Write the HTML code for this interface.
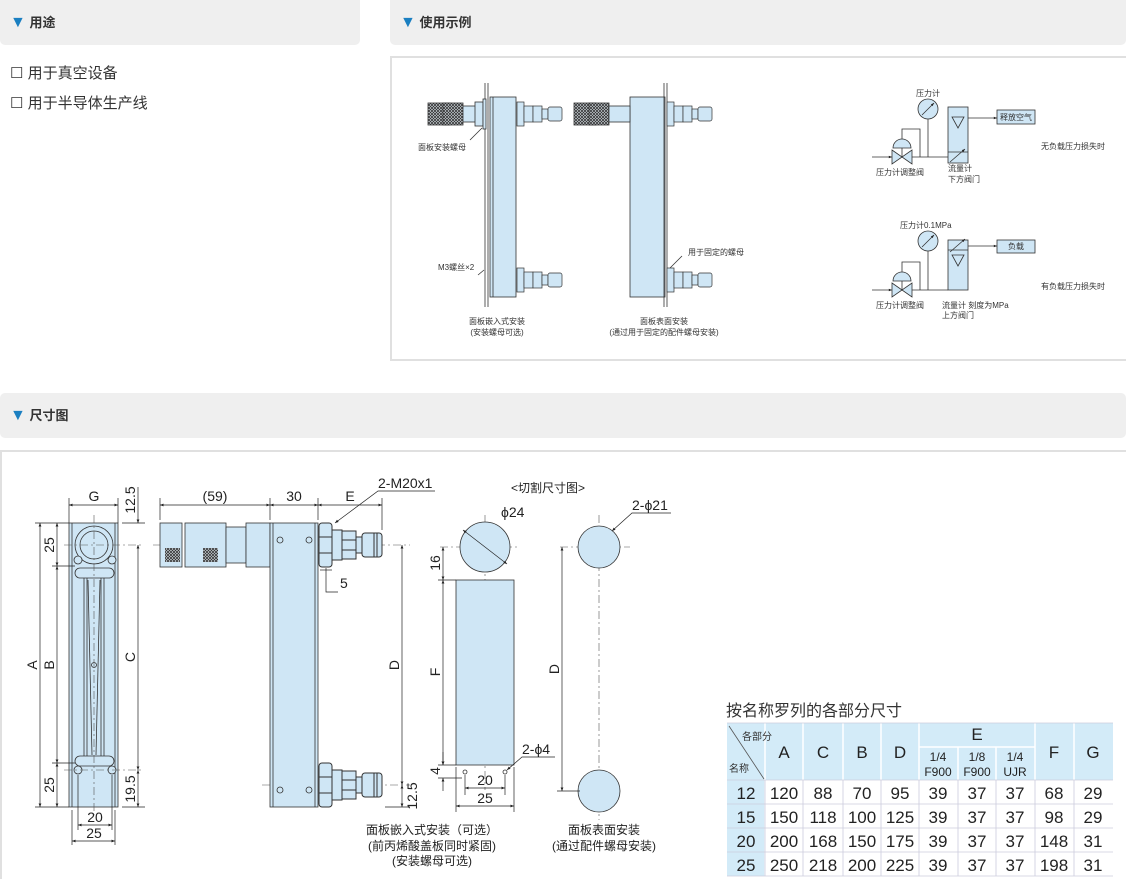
<!DOCTYPE html>
<html><head><meta charset="utf-8"><style>
body{margin:0;width:1126px;height:879px;overflow:hidden;background:#fff;font-family:"Liberation Sans","Noto Sans CJK SC",sans-serif;}
svg{position:absolute;left:0;top:0}
</style></head><body>
<svg width="1126" height="879" viewBox="0 0 1126 879" font-family="Liberation Sans, Noto Sans CJK SC, sans-serif">
<defs>
<pattern id="kn" width="3" height="3" patternUnits="userSpaceOnUse"><rect width="3" height="3" fill="#dfe8ee"/><path d="M0 0L3 3M3 0L0 3" stroke="#333" stroke-width="0.8"/></pattern>
<marker id="ar" viewBox="0 0 10 10" refX="10" refY="5" markerWidth="7" markerHeight="5" orient="auto-start-reverse"><path d="M0 1L10 5L0 9z" fill="#222"/></marker>
<marker id="as" viewBox="0 0 10 10" refX="10" refY="5" markerWidth="5" markerHeight="4" orient="auto-start-reverse"><path d="M0 1L10 5L0 9z" fill="#222"/></marker>
<g id="fit">
<rect x="0" y="-22" width="13" height="44" rx="3" fill="#cfe6f5" stroke="#333"/>
<line x1="0" y1="-8" x2="13" y2="-8" stroke="#333"/><line x1="0" y1="8" x2="13" y2="8" stroke="#333"/>
<rect x="13" y="-15" width="10" height="30" fill="#cfe6f5" stroke="#333"/>
<rect x="23" y="-14" width="14" height="28" fill="#cfe6f5" stroke="#333"/>
<line x1="23" y1="-5" x2="37" y2="-5" stroke="#333"/><line x1="23" y1="5" x2="37" y2="5" stroke="#333"/>
<rect x="37" y="-8" width="6" height="16" fill="#cfe6f5" stroke="#333"/>
<rect x="43" y="-12" width="20" height="24" rx="3" fill="#cfe6f5" stroke="#333"/>
<line x1="55" y1="-12" x2="55" y2="12" stroke="#333"/><line x1="58" y1="-12" x2="58" y2="12" stroke="#333"/>
</g>
<g id="sf">
<rect x="0" y="-12" width="7" height="24" fill="#cfe6f5" stroke="#333" stroke-width="0.7"/>
<rect x="7" y="-8" width="9" height="16" fill="#cfe6f5" stroke="#333" stroke-width="0.7"/>
<rect x="16" y="-8" width="9" height="16" fill="#cfe6f5" stroke="#333" stroke-width="0.7"/>
<rect x="25" y="-5" width="6" height="10" fill="#cfe6f5" stroke="#333" stroke-width="0.7"/>
<rect x="31" y="-7" width="14" height="14" rx="2" fill="#cfe6f5" stroke="#333" stroke-width="0.7"/>
</g>
</defs>

<rect x="0" y="-6" width="360" height="51" rx="5" fill="#efefef"/>
<rect x="390" y="-6" width="736" height="51" rx="5" fill="#efefef"/>
<rect x="0" y="393" width="1126" height="45" rx="5" fill="#efefef"/>
<g font-size="13" font-weight="bold" fill="#333">
<text x="10" y="27"><tspan fill="#1a7fc1" font-size="16">▼</tspan> 用途</text>
<text x="400" y="27"><tspan fill="#1a7fc1" font-size="16">▼</tspan> 使用示例</text>
<text x="10" y="420"><tspan fill="#1a7fc1" font-size="16">▼</tspan> 尺寸图</text>
</g>
<g font-size="15" fill="#333">
<text x="10" y="78">☐ 用于真空设备</text>
<text x="10" y="108">☐ 用于半导体生产线</text>
</g>

<rect x="391" y="57" width="740" height="303" fill="none" stroke="#e0e0e0" stroke-width="2"/>
<g stroke="#333" stroke-width="0.8">
<line x1="485" y1="83" x2="485" y2="307"/><line x1="488" y1="83" x2="488" y2="307"/>
<rect x="490" y="97" width="26" height="200" fill="#cfe6f5"/>
<line x1="493" y1="97" x2="493" y2="297"/>
<rect x="428" y="103" width="22" height="22" fill="url(#kn)"/>
<rect x="443" y="103" width="20" height="22" fill="url(#kn)"/>
<rect x="463" y="106" width="15" height="16" fill="#cfe6f5"/>
<rect x="475" y="102" width="8" height="24" fill="#cfe6f5"/>
<rect x="483" y="99" width="3" height="30" fill="#cfe6f5"/>
<line x1="470" y1="140" x2="482" y2="128"/>
<line x1="478" y1="275" x2="484" y2="270"/>
</g>
<use href="#sf" x="517" y="114"/>
<use href="#sf" x="517" y="280"/>
<g stroke="#333" stroke-width="0.8">
<rect x="630" y="97" width="35" height="200" fill="#cfe6f5"/>
<line x1="664" y1="83" x2="664" y2="307"/><line x1="667" y1="83" x2="667" y2="307"/>
<rect x="574" y="103" width="22" height="22" fill="url(#kn)"/>
<rect x="589" y="103" width="20" height="22" fill="url(#kn)"/>
<rect x="609" y="106" width="21" height="16" fill="#cfe6f5"/>
<line x1="670" y1="268" x2="682" y2="256"/>
</g>
<use href="#sf" x="667" y="114"/>
<use href="#sf" x="667" y="280"/>
<g font-size="8" fill="#333">
<text x="418" y="150">面板安装螺母</text>
<text x="438" y="270">M3螺丝×2</text>
<text x="688" y="255">用于固定的螺母</text>
<text x="497" y="324" text-anchor="middle">面板嵌入式安装</text>
<text x="497" y="335" text-anchor="middle">(安装螺母可选)</text>
<text x="664" y="324" text-anchor="middle">面板表面安装</text>
<text x="664" y="335" text-anchor="middle">(通过用于固定的配件螺母安装)</text>
</g>
<g stroke="#333" stroke-width="0.8" fill="#cfe6f5">
<line x1="872" y1="157" x2="892" y2="157" marker-end="url(#as)"/>
<line x1="912" y1="157" x2="948" y2="157"/>
<path d="M892 150L912 164L912 150L892 164z"/>
<path d="M893 148A9 9 0 0 1 911 148z"/>
<line x1="902" y1="148" x2="902" y2="157"/>
<polyline points="902,139 902,129 920,129 920,157" fill="none"/>
<line x1="928" y1="119" x2="928" y2="157"/>
<circle cx="928" cy="109" r="10" fill="#cfe6f5"/>
<line x1="922" y1="115" x2="934" y2="103" marker-end="url(#as)"/>
<rect x="948" y="107" width="20" height="56"/>
<path d="M952 117L964 117L958 128z" />
<line x1="948" y1="152" x2="968" y2="152"/>
<line x1="950" y1="162" x2="965" y2="149" marker-end="url(#as)"/>
<line x1="968" y1="118" x2="997" y2="118" marker-end="url(#as)"/>
<rect x="997" y="110" width="38" height="14"/>
<line x1="872" y1="290" x2="892" y2="290" marker-end="url(#as)"/>
<line x1="912" y1="290" x2="948" y2="290"/>
<path d="M892 283L912 297L912 283L892 297z"/>
<path d="M893 281A9 9 0 0 1 911 281z"/>
<line x1="902" y1="281" x2="902" y2="290"/>
<polyline points="902,272 902,262 920,262 920,290" fill="none"/>
<line x1="928" y1="251" x2="928" y2="290"/>
<circle cx="928" cy="241" r="10" fill="#cfe6f5"/>
<line x1="922" y1="247" x2="934" y2="235" marker-end="url(#as)"/>
<rect x="948" y="240" width="20" height="50"/>
<line x1="948" y1="250" x2="968" y2="250"/>
<path d="M952 255L964 255L958 266z"/>
<line x1="950" y1="252" x2="965" y2="239" marker-end="url(#as)"/>
<line x1="968" y1="246" x2="997" y2="246" marker-end="url(#as)"/>
<rect x="997" y="240" width="38" height="13"/>
</g>
<g font-size="8" fill="#333">
<text x="928" y="96" text-anchor="middle">压力计</text>
<text x="1016" y="120" text-anchor="middle">释放空气</text>
<text x="900" y="175" text-anchor="middle">压力计调整阀</text>
<text x="948" y="171">流量计</text>
<text x="948" y="182">下方阀门</text>
<text x="1041" y="149">无负载压力损失时</text>
<text x="900" y="228">压力计0.1MPa</text>
<text x="1016" y="249" text-anchor="middle">负载</text>
<text x="900" y="308" text-anchor="middle">压力计调整阀</text>
<text x="942" y="308">流量计 刻度为MPa</text>
<text x="942" y="318">上方阀门</text>
<text x="1041" y="289">有负载压力损失时</text>
</g>

<path d="M1 879L1 451L1126 451" fill="none" stroke="#e0e0e0" stroke-width="2"/>

<g stroke="#333" stroke-width="0.8">
<rect x="69" y="523" width="49" height="284" fill="#cfe6f5"/>
<line x1="72" y1="523" x2="72" y2="807"/><line x1="115" y1="523" x2="115" y2="807"/>
<circle cx="94" cy="545" r="19" fill="#cfe6f5"/><circle cx="94" cy="545" r="14" fill="#cfe6f5"/>
<rect x="75" y="568" width="39" height="10" rx="5" fill="#cfe6f5"/>
<rect x="75" y="756" width="39" height="10" rx="5" fill="#cfe6f5"/>
<line x1="84" y1="578" x2="84" y2="756"/><line x1="87" y1="578" x2="87" y2="756"/>
<line x1="101" y1="578" x2="101" y2="756"/><line x1="104" y1="578" x2="104" y2="756"/>
<line x1="88" y1="580" x2="92" y2="755"/><line x1="100" y1="580" x2="96" y2="755"/>
<circle cx="94" cy="665" r="2.5" fill="none"/>
<circle cx="78" cy="560" r="4" fill="#cfe6f5"/><circle cx="112" cy="560" r="4" fill="#cfe6f5"/>
<circle cx="78" cy="770" r="4" fill="#cfe6f5"/><circle cx="112" cy="770" r="4" fill="#cfe6f5"/>
</g>
<g stroke="#555" stroke-width="0.6" stroke-dasharray="8 3 2 3" fill="none">
<line x1="94" y1="515" x2="94" y2="815"/>
<line x1="64" y1="545" x2="142" y2="545"/>
<line x1="64" y1="770" x2="142" y2="770"/>
<line x1="153" y1="545" x2="410" y2="545"/>
<line x1="262" y1="785" x2="410" y2="785"/>
<line x1="440" y1="547" x2="520" y2="547"/>
<line x1="485" y1="515" x2="485" y2="790"/>
<line x1="560" y1="547" x2="630" y2="547"/>
<line x1="599" y1="515" x2="599" y2="820"/>
</g>
<g stroke="#333" stroke-width="0.8">
<rect x="160" y="523" width="22" height="44" fill="#cfe6f5"/>
<rect x="185" y="523" width="41" height="44" fill="#cfe6f5"/>
<rect x="226" y="527" width="20" height="36" fill="#cfe6f5"/>
<rect x="246" y="523" width="24" height="44" fill="#cfe6f5"/>
<rect x="165" y="548" width="15" height="14" fill="url(#kn)" stroke="none"/>
<rect x="203" y="548" width="15" height="14" fill="url(#kn)" stroke="none"/>
<rect x="270" y="523" width="48" height="284" fill="#cfe6f5"/>
<line x1="273" y1="523" x2="273" y2="807"/><line x1="315" y1="523" x2="315" y2="807"/>
<circle cx="280" cy="540" r="3" fill="none"/><circle cx="309" cy="540" r="3" fill="none"/>
<circle cx="280" cy="790" r="3" fill="none"/><circle cx="309" cy="790" r="3" fill="none"/>
</g>
<use href="#fit" x="319" y="545"/>
<use href="#fit" x="319" y="785"/>
<g stroke="#333" stroke-width="0.8" fill="#cfe6f5">
<circle cx="485" cy="547" r="25"/>
<rect x="456" y="580" width="58" height="185"/>
<circle cx="465" cy="772" r="2" fill="none"/><circle cx="505" cy="772" r="2" fill="none"/>
<circle cx="599" cy="547" r="21"/>
<circle cx="599" cy="791" r="21"/>
</g>
<g stroke="#222" stroke-width="0.7" fill="none">
<line x1="69" y1="498" x2="69" y2="523"/><line x1="118" y1="498" x2="118" y2="523"/>
<line x1="35" y1="523" x2="69" y2="523"/><line x1="35" y1="807" x2="69" y2="807"/>
<line x1="52" y1="566" x2="75" y2="566"/><line x1="52" y1="763" x2="75" y2="763"/>
<line x1="122" y1="523" x2="145" y2="523"/><line x1="122" y1="807" x2="145" y2="807"/>
<line x1="72" y1="810" x2="72" y2="845"/><line x1="115" y1="810" x2="115" y2="845"/>
<line x1="78" y1="775" x2="78" y2="830"/><line x1="112" y1="775" x2="112" y2="830"/>
<line x1="160" y1="498" x2="160" y2="520"/><line x1="270" y1="498" x2="270" y2="520"/>
<line x1="318" y1="498" x2="318" y2="520"/><line x1="382" y1="498" x2="382" y2="530"/>
<line x1="385" y1="807" x2="410" y2="807"/>
<line x1="69" y1="505" x2="118" y2="505" marker-start="url(#ar)" marker-end="url(#ar)"/>
<line x1="40" y1="523" x2="40" y2="807" marker-start="url(#ar)" marker-end="url(#ar)"/>
<line x1="57" y1="523" x2="57" y2="566" marker-start="url(#ar)" marker-end="url(#ar)"/>
<line x1="57" y1="566" x2="57" y2="763" marker-start="url(#ar)" marker-end="url(#ar)"/>
<line x1="57" y1="763" x2="57" y2="807" marker-start="url(#ar)" marker-end="url(#ar)"/>
<line x1="138" y1="487" x2="138" y2="523" marker-end="url(#ar)"/>
<line x1="138" y1="545" x2="138" y2="770" marker-start="url(#ar)" marker-end="url(#ar)"/>
<line x1="138" y1="770" x2="138" y2="807" marker-start="url(#ar)" marker-end="url(#ar)"/>
<line x1="78" y1="825" x2="112" y2="825" marker-start="url(#ar)" marker-end="url(#ar)"/>
<line x1="72" y1="841" x2="115" y2="841" marker-start="url(#ar)" marker-end="url(#ar)"/>
<line x1="160" y1="505" x2="270" y2="505" marker-start="url(#ar)" marker-end="url(#ar)"/>
<line x1="270" y1="505" x2="318" y2="505" marker-start="url(#ar)" marker-end="url(#ar)"/>
<line x1="318" y1="505" x2="382" y2="505" marker-start="url(#ar)" marker-end="url(#ar)"/>
<polyline points="435,491 378,491 335,523" marker-end="url(#ar)"/>
<polyline points="326,568 326,592 338,592"/>
<line x1="320" y1="570" x2="332" y2="570"/>
<line x1="402" y1="545" x2="402" y2="785" marker-start="url(#ar)" marker-end="url(#ar)"/>
<line x1="402" y1="785" x2="402" y2="807" marker-start="url(#ar)" marker-end="url(#ar)"/>
<line x1="438" y1="580" x2="456" y2="580"/><line x1="438" y1="765" x2="456" y2="765"/><line x1="438" y1="778" x2="462" y2="778"/>
<line x1="443" y1="547" x2="443" y2="580" marker-start="url(#ar)" marker-end="url(#ar)"/>
<line x1="443" y1="580" x2="443" y2="765" marker-start="url(#ar)" marker-end="url(#ar)"/>
<line x1="443" y1="752" x2="443" y2="765" marker-end="url(#ar)"/>
<line x1="443" y1="791" x2="443" y2="778" marker-end="url(#ar)"/>
<line x1="463" y1="530" x2="507" y2="564" marker-start="url(#ar)" marker-end="url(#ar)"/>
<line x1="456" y1="767" x2="456" y2="812"/><line x1="514" y1="767" x2="514" y2="812"/>
<line x1="465" y1="775" x2="465" y2="795"/><line x1="505" y1="775" x2="505" y2="795"/>
<line x1="465" y1="788" x2="505" y2="788" marker-start="url(#ar)" marker-end="url(#ar)"/>
<line x1="456" y1="806" x2="514" y2="806" marker-start="url(#ar)" marker-end="url(#ar)"/>
<polyline points="555,757 522,757 507,770" marker-end="url(#ar)"/>
<polyline points="671,513 632,513 612,531" marker-end="url(#ar)"/>
<line x1="557" y1="791" x2="580" y2="791"/>
<line x1="562" y1="547" x2="562" y2="791" marker-start="url(#ar)" marker-end="url(#ar)"/>
</g>
<g font-size="14" fill="#222">
<text x="94" y="501" text-anchor="middle">G</text>
<text transform="translate(37 665) rotate(-90)" text-anchor="middle">A</text>
<text transform="translate(54 665) rotate(-90)" text-anchor="middle">B</text>
<text transform="translate(54 545) rotate(-90)" text-anchor="middle">25</text>
<text transform="translate(54 785) rotate(-90)" text-anchor="middle">25</text>
<text transform="translate(135 657) rotate(-90)" text-anchor="middle">C</text>
<text transform="translate(135 500) rotate(-90)" text-anchor="middle">12.5</text>
<text transform="translate(135 789) rotate(-90)" text-anchor="middle">19.5</text>
<text x="95" y="822" text-anchor="middle">20</text>
<text x="94" y="838" text-anchor="middle">25</text>
<text x="215" y="501" text-anchor="middle">(59)</text>
<text x="294" y="501" text-anchor="middle">30</text>
<text x="350" y="501" text-anchor="middle">E</text>
<text x="378" y="488">2-M20x1</text>
<text x="340" y="588">5</text>
<text transform="translate(399 665) rotate(-90)" text-anchor="middle">D</text>
<text transform="translate(417 796) rotate(-90)" text-anchor="middle">12.5</text>
<text transform="translate(440 563) rotate(-90)" text-anchor="middle">16</text>
<text transform="translate(440 672) rotate(-90)" text-anchor="middle">F</text>
<text transform="translate(440 771) rotate(-90)" text-anchor="middle">4</text>
<text x="501" y="517">ϕ24</text>
<text x="485" y="785" text-anchor="middle">20</text>
<text x="485" y="803" text-anchor="middle">25</text>
<text x="522" y="754">2-ϕ4</text>
<text transform="translate(559 669) rotate(-90)" text-anchor="middle">D</text>
<text x="632" y="510">2-ϕ21</text>
</g>
<g font-size="12" fill="#222">
<text x="548" y="492" text-anchor="middle">&lt;切割尺寸图&gt;</text>
<text x="432" y="834" text-anchor="middle">面板嵌入式安装（可选）</text>
<text x="432" y="850" text-anchor="middle">(前丙烯酸盖板同时紧固)</text>
<text x="432" y="865" text-anchor="middle">(安装螺母可选)</text>
<text x="604" y="834" text-anchor="middle">面板表面安装</text>
<text x="604" y="850" text-anchor="middle">(通过配件螺母安装)</text>
</g>

<text x="726" y="716" font-size="16" fill="#333">按名称罗列的各部分尺寸</text>
<g>
<rect x="727" y="723" width="386" height="57" fill="#d3ebf8"/>
<rect x="727" y="780" width="38" height="96" fill="#d3ebf8"/>
<g stroke="#fff" stroke-width="1.5">
<line x1="765" y1="723" x2="765" y2="876"/><line x1="803" y1="723" x2="803" y2="876"/>
<line x1="843" y1="723" x2="843" y2="876"/><line x1="881" y1="723" x2="881" y2="876"/>
<line x1="919" y1="723" x2="919" y2="876"/><line x1="958" y1="747" x2="958" y2="876"/>
<line x1="996" y1="747" x2="996" y2="876"/><line x1="1035" y1="723" x2="1035" y2="876"/>
<line x1="1074" y1="723" x2="1074" y2="876"/>
<line x1="919" y1="747" x2="1035" y2="747"/>
</g>
<g stroke="#ccd" stroke-width="0.8">
<line x1="727" y1="723" x2="1113" y2="723"/>
<line x1="727" y1="780" x2="1113" y2="780"/>
<line x1="727" y1="804" x2="1113" y2="804"/>
<line x1="727" y1="828" x2="1113" y2="828"/>
<line x1="727" y1="852" x2="1113" y2="852"/>
<line x1="727" y1="876" x2="1113" y2="876"/>
<line x1="765" y1="780" x2="765" y2="876"/>
<line x1="803" y1="780" x2="803" y2="876"/><line x1="843" y1="780" x2="843" y2="876"/>
<line x1="881" y1="780" x2="881" y2="876"/><line x1="919" y1="780" x2="919" y2="876"/>
<line x1="958" y1="780" x2="958" y2="876"/><line x1="996" y1="780" x2="996" y2="876"/>
<line x1="1035" y1="780" x2="1035" y2="876"/><line x1="1074" y1="780" x2="1074" y2="876"/>
<line x1="729" y1="726" x2="764" y2="779" stroke="#555"/>
</g>
<g font-size="10" fill="#333"><text x="742" y="740">各部分</text><text x="729" y="772">名称</text></g>
<g font-size="17" fill="#222" text-anchor="middle">
<text x="784" y="758">A</text><text x="823" y="758">C</text><text x="862" y="758">B</text><text x="900" y="758">D</text>
<text x="977" y="740">E</text><text x="1054" y="758">F</text><text x="1093" y="758">G</text>
</g>
<g font-size="12" fill="#222" text-anchor="middle">
<text x="938" y="761">1/4</text><text x="938" y="776">F900</text>
<text x="977" y="761">1/8</text><text x="977" y="776">F900</text>
<text x="1015" y="761">1/4</text><text x="1015" y="776">UJR</text>
</g>
<g font-size="17" fill="#222" text-anchor="middle">
<text x="746" y="799">12</text><text x="784" y="799">120</text><text x="823" y="799">88</text><text x="862" y="799">70</text><text x="900" y="799">95</text><text x="938" y="799">39</text><text x="977" y="799">37</text><text x="1015" y="799">37</text><text x="1054" y="799">68</text><text x="1093" y="799">29</text>
<text x="746" y="823">15</text><text x="784" y="823">150</text><text x="823" y="823">118</text><text x="862" y="823">100</text><text x="900" y="823">125</text><text x="938" y="823">39</text><text x="977" y="823">37</text><text x="1015" y="823">37</text><text x="1054" y="823">98</text><text x="1093" y="823">29</text>
<text x="746" y="847">20</text><text x="784" y="847">200</text><text x="823" y="847">168</text><text x="862" y="847">150</text><text x="900" y="847">175</text><text x="938" y="847">39</text><text x="977" y="847">37</text><text x="1015" y="847">37</text><text x="1054" y="847">148</text><text x="1093" y="847">31</text>
<text x="746" y="871">25</text><text x="784" y="871">250</text><text x="823" y="871">218</text><text x="862" y="871">200</text><text x="900" y="871">225</text><text x="938" y="871">39</text><text x="977" y="871">37</text><text x="1015" y="871">37</text><text x="1054" y="871">198</text><text x="1093" y="871">31</text>
</g>
</g>
</svg>
</body></html>
